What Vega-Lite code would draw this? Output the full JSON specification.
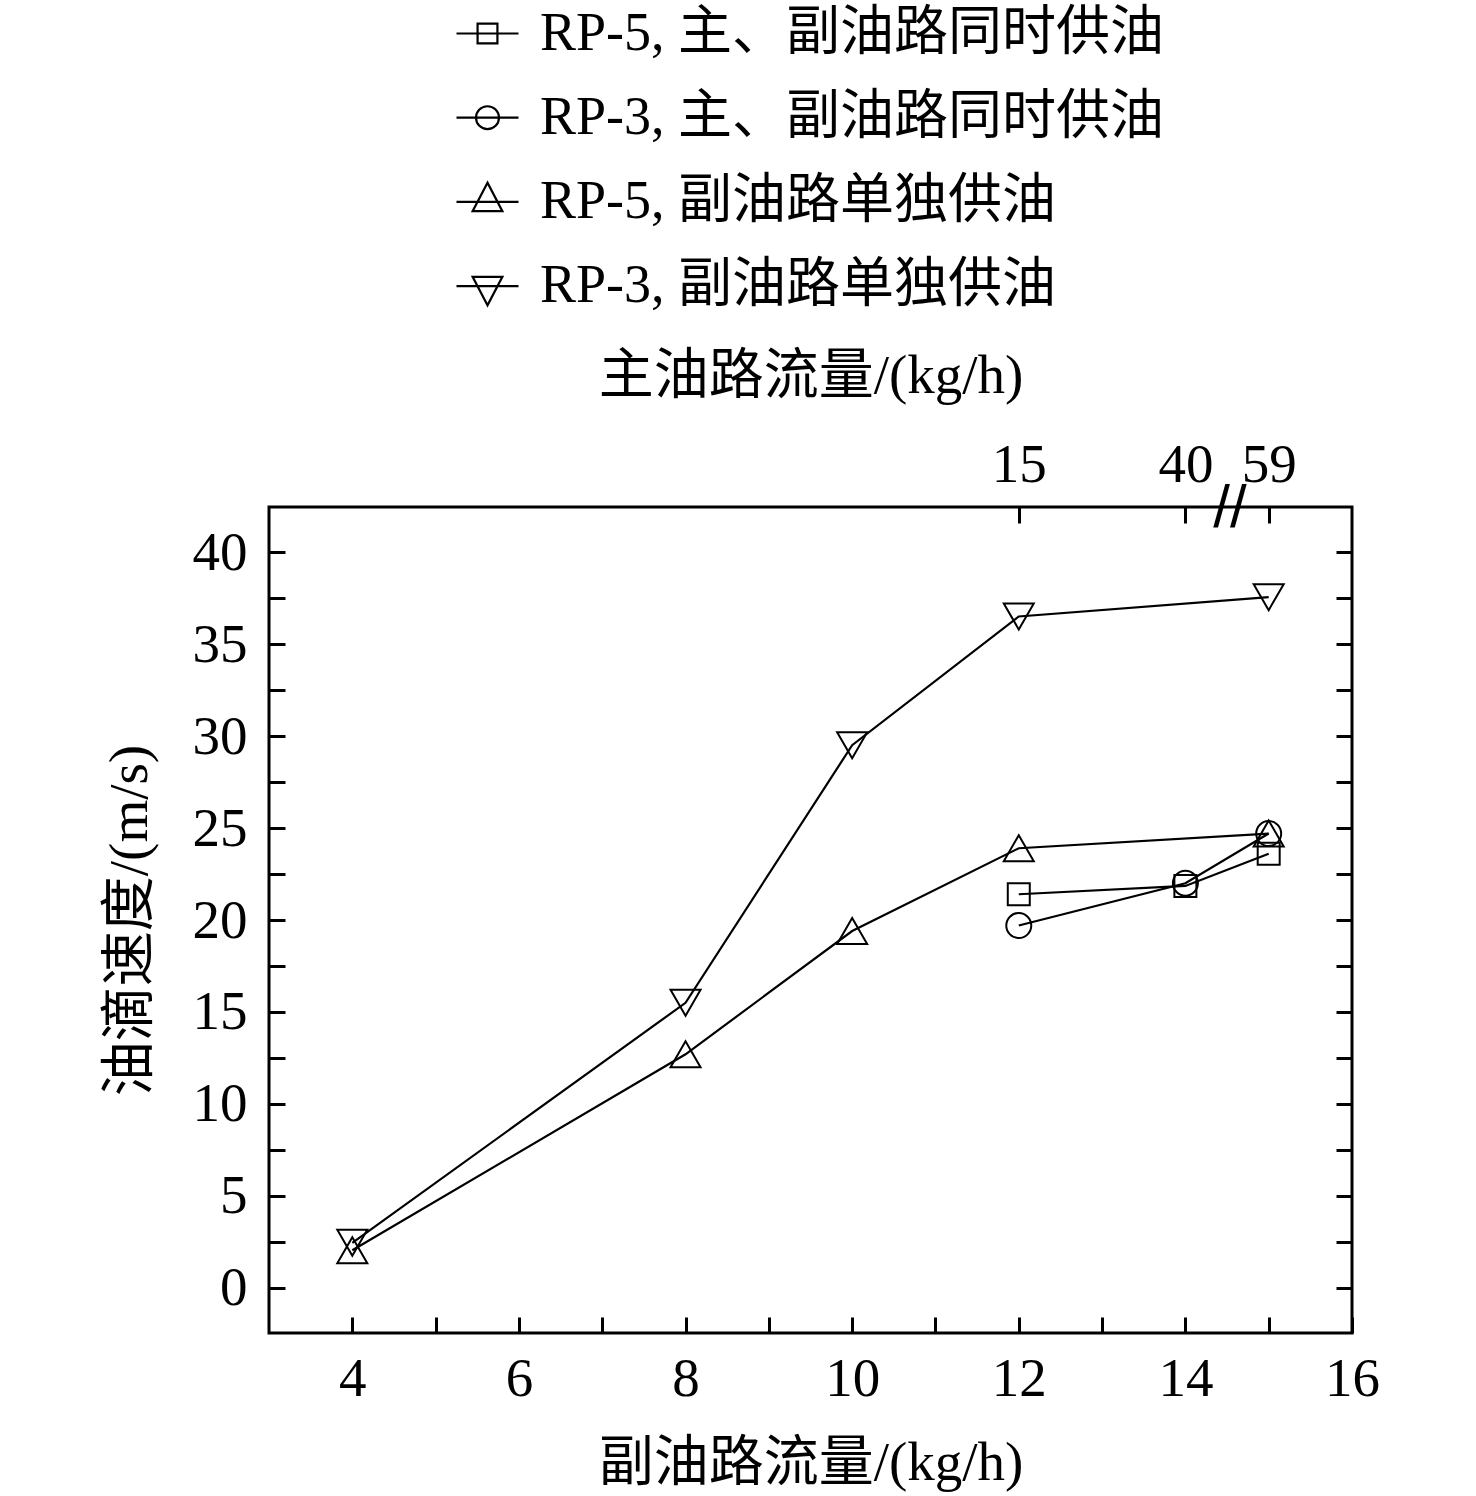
{
  "$schema": "https://vega.github.io/schema/vega-lite/v6.json",
  "width": 1083,
  "height": 826,
  "autosize": {"type": "none"},
  "padding": {"left": 269, "top": 507, "right": 124, "bottom": 163},
  "background": "white",
  "config": {
    "view": {"stroke": "black", "strokeWidth": 3},
    "axis": {
      "domain": false,
      "grid": false,
      "tickColor": "black",
      "tickWidth": 3,
      "tickSize": -16,
      "labelFont": "Liberation Serif, Noto Sans CJK SC",
      "labelFontSize": 55,
      "labelColor": "black",
      "labelOverlap": false,
      "labelFlush": false,
      "labelPadding": 38,
      "titleFont": "Liberation Serif, Noto Sans CJK SC",
      "titleFontSize": 55,
      "titleFontWeight": "normal",
      "titleColor": "black"
    }
  },
  "datasets": {
    "pts": [
      {"series": "RP-5, 主、副油路同时供油", "x": 12, "y": 21.4},
      {"series": "RP-5, 主、副油路同时供油", "x": 14, "y": 21.85},
      {"series": "RP-5, 主、副油路同时供油", "x": 15, "y": 23.6},
      {"series": "RP-3, 主、副油路同时供油", "x": 12, "y": 19.7},
      {"series": "RP-3, 主、副油路同时供油", "x": 14, "y": 22.0},
      {"series": "RP-3, 主、副油路同时供油", "x": 15, "y": 24.7},
      {"series": "RP-5, 副油路单独供油", "x": 4, "y": 2.05},
      {"series": "RP-5, 副油路单独供油", "x": 8, "y": 12.7},
      {"series": "RP-5, 副油路单独供油", "x": 10, "y": 19.4},
      {"series": "RP-5, 副油路单独供油", "x": 12, "y": 23.9},
      {"series": "RP-5, 副油路单独供油", "x": 15, "y": 24.7},
      {"series": "RP-3, 副油路单独供油", "x": 4, "y": 2.45},
      {"series": "RP-3, 副油路单独供油", "x": 8, "y": 15.5},
      {"series": "RP-3, 副油路单独供油", "x": 10, "y": 29.5},
      {"series": "RP-3, 副油路单独供油", "x": 12, "y": 36.5},
      {"series": "RP-3, 副油路单独供油", "x": 15, "y": 37.55}
    ]
  },
  "data": {"name": "pts"},
  "resolve": {
    "axis": {"x": "independent", "y": "independent"},
    "scale": {"shape": "independent"}
  },
  "layer": [
    {
      "mark": {"type": "line", "color": "black", "strokeWidth": 2.2},
      "encoding": {
        "x": {
          "field": "x", "type": "quantitative",
          "scale": {"domain": [3, 16], "nice": false, "zero": false},
          "axis": {
            "orient": "bottom",
            "values": [4, 5, 6, 7, 8, 9, 10, 11, 12, 13, 14, 15, 16],
            "labelExpr": "datum.value % 2 === 0 ? datum.label : ''",
            "labelPadding": 35,
            "title": "副油路流量/(kg/h)",
            "titlePadding": 30,
            "encode": {"ticks": {"update": {"y2": {"signal": "datum.value % 2 === 0 ? -16 : -9"}}}}
          }
        },
        "y": {
          "field": "y", "type": "quantitative",
          "scale": {"domain": [-2.45, 42.45], "nice": false, "zero": false},
          "axis": {
            "orient": "left",
            "values": [0, 2.5, 5, 7.5, 10, 12.5, 15, 17.5, 20, 22.5, 25, 27.5, 30, 32.5, 35, 37.5, 40],
            "labelExpr": "datum.value % 5 === 0 ? datum.label : ''",
            "title": "油滴速度/(m/s)",
            "titlePadding": 34,
            "encode": {"ticks": {"update": {"x2": {"signal": "datum.value % 5 === 0 ? 16 : 9"}}}}
          }
        },
        "detail": {"field": "series"}
      }
    },
    {
      "mark": {"type": "point", "filled": false, "color": "black", "strokeWidth": 2, "size": 900, "opacity": 1},
      "encoding": {
        "x": {"field": "x", "type": "quantitative", "axis": null},
        "y": {"field": "y", "type": "quantitative", "axis": null},
        "shape": {
          "field": "series", "type": "nominal",
          "scale": {
            "domain": ["RP-5, 主、副油路同时供油", "RP-3, 主、副油路同时供油", "RP-5, 副油路单独供油", "RP-3, 副油路单独供油"],
            "range": [
              "M-0.733,-0.733H0.733V0.733H-0.733Z",
              "M-0.833,0A0.833,0.833,0,1,0,0.833,0A0.833,0.833,0,1,0,-0.833,0Z",
              "M0,-0.866L-1,0.866L1,0.866Z",
              "M0,0.866L-1,-0.866L1,-0.866Z"
            ]
          },
          "legend": null
        }
      }
    },
    {
      "transform": [{"filter": "false"}],
      "mark": {"type": "point", "filled": false, "color": "black", "strokeWidth": 2, "opacity": 1},
      "encoding": {
        "x": {"field": "x", "type": "quantitative", "axis": null},
        "y": {"field": "y", "type": "quantitative", "axis": null},
        "shape": {
          "field": "series", "type": "nominal",
          "scale": {
            "domain": ["RP-5, 主、副油路同时供油", "RP-3, 主、副油路同时供油", "RP-5, 副油路单独供油", "RP-3, 副油路单独供油"],
            "range": [
              "M-1,0H1M-0.32,-0.32H0.32V0.32H-0.32Z",
              "M-1,0H1M-0.37,0A0.37,0.37,0,1,0,0.37,0A0.37,0.37,0,1,0,-0.37,0Z",
              "M-1,0H1M0,-0.62L-0.48,0.3L0.48,0.3Z",
              "M-1,0H1M0,0.62L-0.48,-0.3L0.48,-0.3Z"
            ]
          },
          "legend": {
            "title": null,
            "orient": "none",
            "legendX": 186,
            "legendY": -506,
            "padding": 0,
            "rowPadding": 24.2,
            "labelFont": "Liberation Serif, Noto Sans CJK SC",
            "labelFontSize": 54,
            "labelColor": "black",
            "labelLimit": 0,
            "labelOffset": 20,
            "symbolSize": 3844,
            "symbolStrokeWidth": 2.2,
            "symbolStrokeColor": "black",
            "symbolFillColor": "transparent",
            "symbolOpacity": 1
          }
        }
      }
    },
    {
      "data": {"values": [{"x": 14.5, "y": 42.45, "t": "//"}]},
      "mark": {"type": "text", "font": "Liberation Sans", "fontSize": 60, "fontWeight": "normal", "color": "black", "baseline": "middle", "align": "center", "dx": 3, "dy": 2},
      "encoding": {
        "x": {
          "field": "x", "type": "quantitative",
          "axis": {
            "orient": "top",
            "values": [12, 14, 15],
            "labelExpr": "datum.value === 12 ? '15' : datum.value === 14 ? '40' : '59'",
            "labelPadding": 30,
            "title": "主油路流量/(kg/h)",
            "titlePadding": 33
          }
        },
        "y": {
          "field": "y", "type": "quantitative",
          "axis": {
            "orient": "right",
            "values": [0, 2.5, 5, 7.5, 10, 12.5, 15, 17.5, 20, 22.5, 25, 27.5, 30, 32.5, 35, 37.5, 40],
            "labels": false,
            "title": null,
            "encode": {"ticks": {"update": {"x2": {"signal": "datum.value % 5 === 0 ? -16 : -9"}}}}
          }
        },
        "text": {"field": "t"}
      }
    }
  ]
}
